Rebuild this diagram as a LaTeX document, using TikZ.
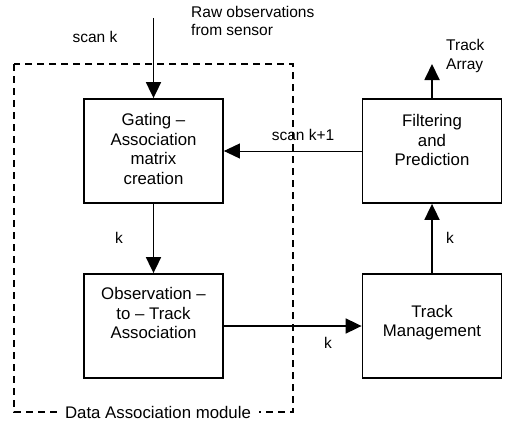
\documentclass[tikz,border=0pt]{standalone}
\usepackage{fontspec}
\setmainfont{Liberation Sans}
\usetikzlibrary{arrows.meta}
\tikzset{
  blk/.style={draw, line width=1.8pt, minimum width=139pt, minimum height=104pt, inner sep=0pt},
  btxt/.style={align=center, font=\fontsize{16.8}{19.5}\selectfont, inner sep=0pt},
  ann/.style={font=\fontsize{15.5}{18.5}\selectfont, inner sep=0pt},
  arr/.style={line width=1.8pt, -{Triangle[length=16pt,width=15pt]}},
  thinarr/.style={line width=1pt, -{Triangle[length=16pt,width=15pt]}},
  modbox/.style={line width=1.4pt, dash pattern=on 7pt off 5pt},
}
\begin{document}
\begin{tikzpicture}[x=1pt,y=-1pt]
\useasboundingbox (0,0) rectangle (505,428);
% dashed module box
\draw[modbox] (14,64) rectangle (293,412);
\node[ann, font=\fontsize{16.8}{19.5}\selectfont, fill=white, inner xsep=8pt, inner ysep=3pt] (modlbl) at (158,412) {Data Association module};
% blocks
\node[blk] (gate) at (153.5,151) {};
\node[blk] (filt) at (432,151) {};
\node[blk] (obs) at (153.5,326) {};
\node[blk] (tm) at (432,326) {};
% block texts
\node[btxt] (gatet) at (153.5,149) {Gating --\\Association\\matrix\\creation};
\node[btxt] (filtt) at (432,140) {Filtering\\and\\Prediction};
\node[btxt] (obst) at (153.5,313) {Observation --\\to -- Track\\Association};
\node[btxt] (tmt) at (432,322.5) {Track\\Management};
% free ends
\coordinate (rawin) at (153.5,18);
\coordinate (trkout) at (432,64);
% connectors
\draw[arr] (rawin) -- (gate.north);
\draw[arr] (gate.south) -- (obs.north);
\draw[arr] (obs.east) -- (tm.west);
\draw[arr] (tm.north) -- (filt.south);
\draw[arr] (filt.north) -- (trkout);
\draw[thinarr] (filt.west) -- (gate.east);
% annotations
\node[ann, anchor=west, align=left] (raw) at (191,21) {Raw observations\\from sensor};
\node[ann] (scank) at (95,37) {scan k};
\node[ann, anchor=west, align=left] (trk) at (446,56) {Track\\Array};
\node[ann] (scank1) at (303,135) {scan k+1};
\node[ann] (k1) at (119,238) {k};
\node[ann] (k2) at (450,238) {k};
\node[ann] (k3) at (328,343) {k};
\end{tikzpicture}
\end{document}
